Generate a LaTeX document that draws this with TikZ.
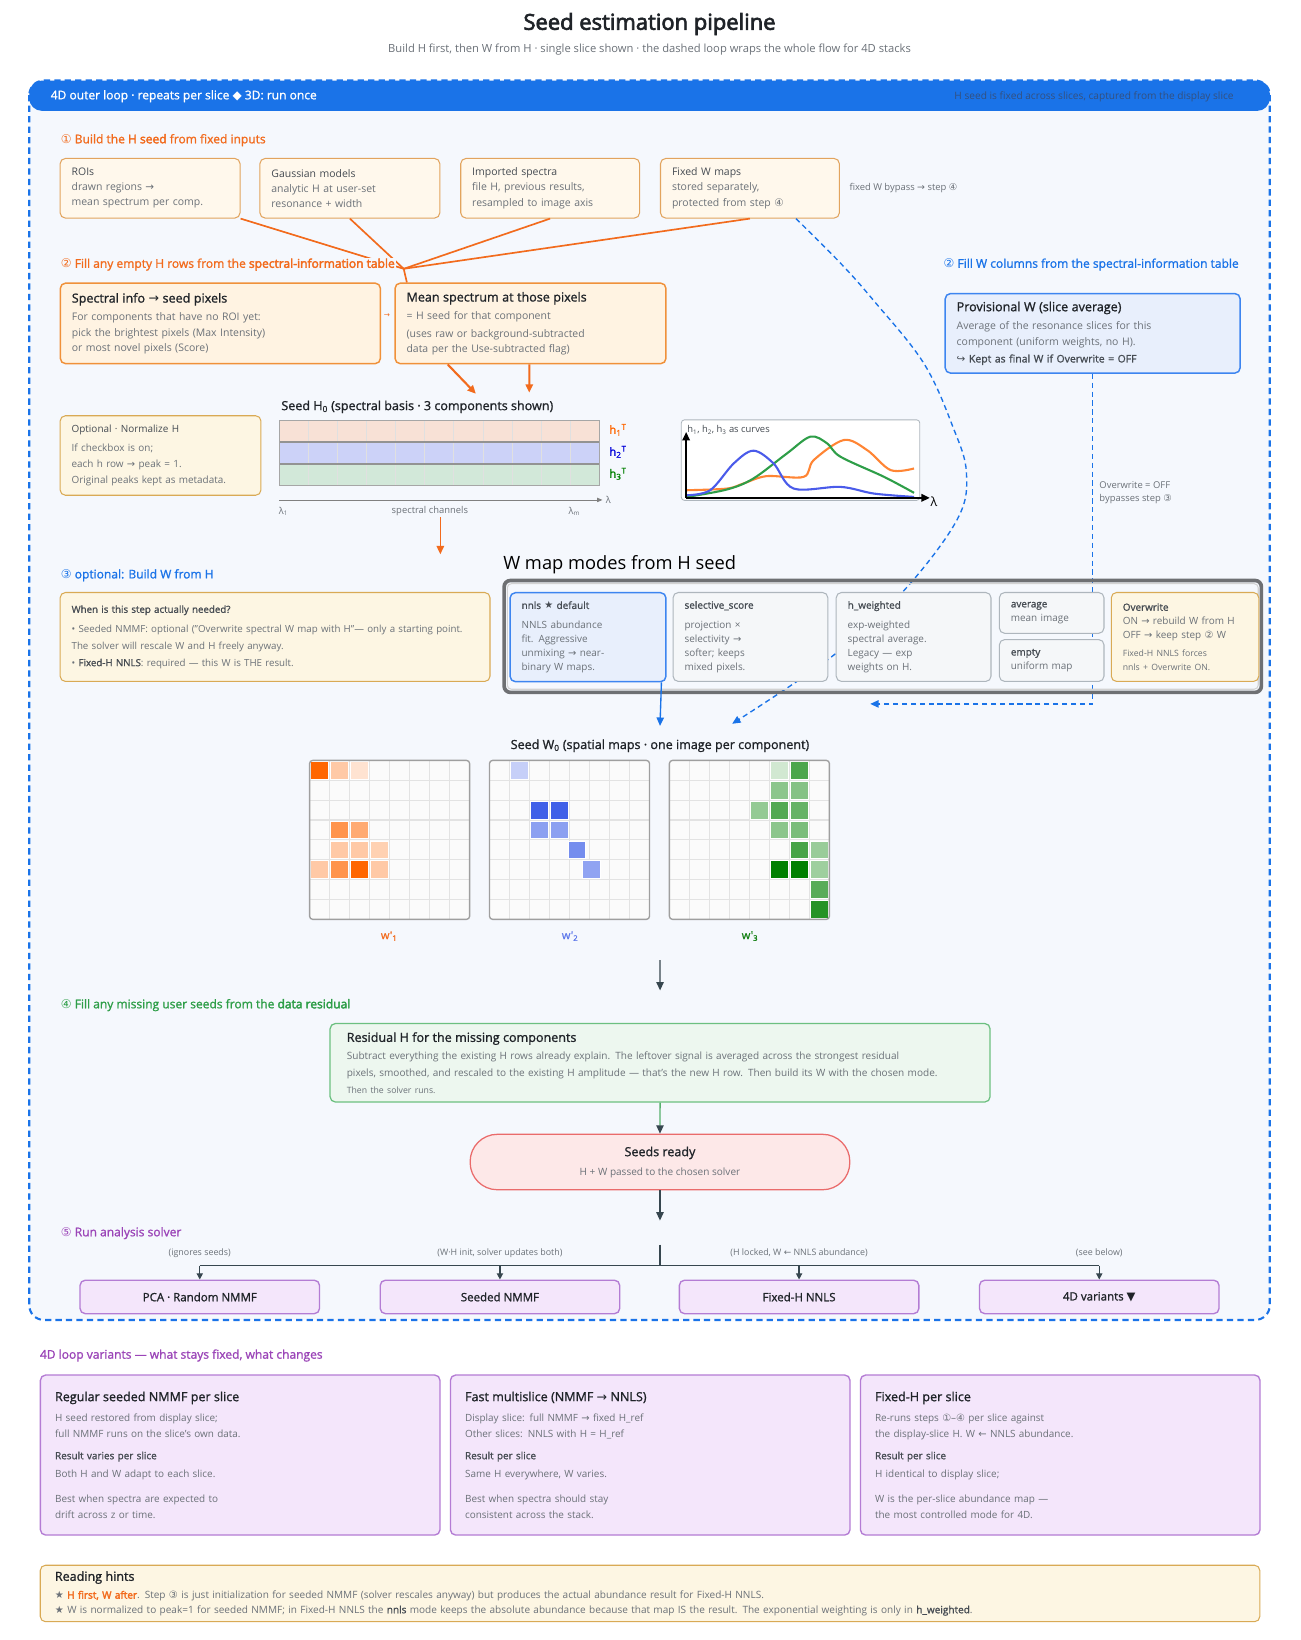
\documentclass[tikz,border=0pt]{standalone}
\usepackage{fontspec}
\setmainfont{Open Sans}[AutoFakeBold=3]
\newfontfamily\semib{Open Sans}[FakeBold=1.2, AutoFakeBold=3]
\newfontfamily\symf{DejaVu Sans}
\usetikzlibrary{positioning}
\usetikzlibrary{arrows.meta}

\definecolor{loopblue}{HTML}{1A73E8}
\definecolor{loopbg}{HTML}{F5F8FD}
\definecolor{bandtxt}{HTML}{34507E}
\definecolor{txtdark}{HTML}{1F2328}
\definecolor{txtmid}{HTML}{454B52}
\definecolor{txtgrey}{HTML}{6B7178}
\definecolor{orangeT}{HTML}{F26B1D}
\definecolor{greenT}{HTML}{2E9E48}
\definecolor{purpleT}{HTML}{9B45B8}
\definecolor{inFill}{HTML}{FFF8EC}
\definecolor{inDraw}{HTML}{E2A45E}
\definecolor{creamFill}{HTML}{FDF6E3}
\definecolor{creamDraw}{HTML}{D9AA55}
\definecolor{orFill}{HTML}{FFF3E2}
\definecolor{orDraw}{HTML}{F0913A}
\definecolor{blFill}{HTML}{E8EFFC}
\definecolor{blDraw}{HTML}{3D85F0}
\definecolor{gyFill}{HTML}{F5F7F9}
\definecolor{gyDraw}{HTML}{AEB6BD}
\definecolor{grFill}{HTML}{EDF7EF}
\definecolor{grDraw}{HTML}{6CC080}
\definecolor{rdFill}{HTML}{FDE8E8}
\definecolor{rdDraw}{HTML}{EA6B6B}
\definecolor{puFill}{HTML}{F4E6FB}
\definecolor{puDraw}{HTML}{B47CD4}
\definecolor{arrdark}{HTML}{37474F}
\definecolor{panelgrey}{HTML}{6E7073}
\definecolor{hOr}{HTML}{FF6600}
\definecolor{hBl}{HTML}{4060E8}
\definecolor{hGr}{HTML}{008000}
\definecolor{cOr}{HTML}{FF8534}
\definecolor{cBl}{HTML}{4A5BEA}
\definecolor{cGr}{HTML}{2E9E48}
\definecolor{hrowA}{HTML}{F8E1D6}
\definecolor{hrowB}{HTML}{CCD2F8}
\definecolor{hrowC}{HTML}{D2E8D9}

\newcommand{\sym}[1]{{\symf #1}}
\newcommand{\fsz}[2]{\fontsize{#1}{#2}\selectfont}
\newcommand{\hd}[1]{{\color{txtmid}#1}}
\newcommand{\strongtxt}[1]{{\bfseries #1}}
\newcommand{\btitle}[1]{{\fsz{12}{15}\semib\color{txtdark}#1}}
\newcommand{\mtitle}[1]{{\semib\color{txtmid}#1}}

\tikzset{
  bsize/.code 2 args={\pgfmathsetmacro\boxtw{#1-22}%
    \tikzset{minimum width=#1pt, minimum height=#2pt, text width=\boxtw pt}},
  box/.style={draw, rounded corners=5pt, line width=1pt, anchor=north west,
    align=left, inner xsep=11pt, inner ysep=0pt, text=txtgrey},
  inbox/.style={box, fill=inFill, draw=inDraw, font=\fsz{10}{14.5}},
  orbox/.style={box, fill=orFill, draw=orDraw, line width=1.4pt, font=\fsz{10}{14.5}},
  crbox/.style={box, fill=creamFill, draw=creamDraw, font=\fsz{9.5}{15.5}},
  blbox/.style={box, fill=blFill, draw=blDraw, line width=1.4pt, font=\fsz{10}{16}},
  gybox/.style={box, fill=gyFill, draw=gyDraw},
  grbox/.style={box, fill=grFill, draw=grDraw, line width=1.2pt},
  pubox/.style={box, fill=puFill, draw=puDraw, line width=1.3pt, font=\fsz{9.5}{15.5}},
  modefont/.style={font=\fsz{9.5}{13.5}, inner xsep=10pt},
  sect/.style={anchor=west, font=\semib\fsz{11.5}{13}, inner sep=1pt},
  note/.style={font=\fsz{9}{12}, text=txtgrey, inner sep=1pt},
  solver/.style={draw=puDraw, fill=puFill, line width=1.3pt, rounded corners=5pt,
    minimum width=229pt, minimum height=32pt, font=\semib\fsz{11}{12}, text=txtdark},
  arr/.style={-{Triangle[length=8pt,width=7pt]}},
  orline/.style={orangeT, line width=1.6pt},
  bldash/.style={loopblue, line width=1.3pt, dash pattern=on 5pt off 3.5pt},
  dkline/.style={arrdark, line width=1.3pt},
  gridline/.style={draw=gray!22, line width=1.1pt},
}

\begin{document}
\begin{tikzpicture}[x=1pt,y=-1pt]
  \useasboundingbox (0,0) rectangle (1243,1568);
  \fill[white] (0,0) rectangle (1243,1568);

  % title
  \node[font=\bfseries\fsz{21}{24}, text=txtdark] (title) at (621,23) {Seed estimation pipeline};
  \node[font=\fsz{10.7}{12}, text=txtgrey] (subtitle) at (621,47)
    {Build H first, then W from H · single slice shown · the dashed loop wraps the whole flow for 4D stacks};

  % outer 4D loop
  \fill[loopbg, rounded corners=14pt] (28,77) rectangle (1214,1262);
  \fill[loopblue, rounded corners=12pt] (28,77) rectangle (1214,106);
  \draw[loopblue, line width=2pt, dash pattern=on 6pt off 4pt, rounded corners=14pt] (28,77) rectangle (1214,1262);
  \node[anchor=west, text=white, font=\semib\fsz{11.5}{13}] (looplab) at (45,92)
    {4D outer loop · repeats per slice \sym{◆} 3D: run once};
  \node[anchor=east, text=bandtxt, font=\fsz{9.7}{11}] (loopnote) at (1183,93)
    {H seed is fixed across slices, captured from the display slice};

  % step 1: fixed inputs
  \node[sect, text=orangeT] (s1) at (57,134) {\sym{①} Build the \strongtxt{H seed} from fixed inputs};
  \node[inbox, bsize={172}{57}] (roi) at (57,151) {\hd{ROIs}\\ drawn regions \sym{→}\\ mean spectrum per comp.};
  \node[inbox, bsize={172}{57}] (gauss) at (248,151) {\hd{Gaussian models}\\ analytic H at user-set\\ resonance + width};
  \node[inbox, bsize={171}{57}] (imp) at (440,151) {\hd{Imported spectra}\\ file H, previous results,\\ resampled to image axis};
  \node[inbox, bsize={171}{57}] (fixw) at (631,151) {\hd{Fixed W maps}\\ stored separately,\\ protected from step \sym{④}};
  \node[note, anchor=west] (bypass) at (811,180) {fixed W bypass \sym{→} step \sym{④}};

  % inputs converge behind the step 2 label
  \coordinate (hub) at (386,257);
  \draw[orline] (roi.south east) -- (hub);
  \draw[orline] (gauss.south) -- (hub);
  \draw[orline] (imp.south) -- (hub);
  \draw[orline] (fixw.south) -- (hub);

  % step 2 (H)
  \node[orbox, bsize={306}{77}] (spx) at (57,270) {\btitle{Spectral info \sym{→} seed pixels}\\[3pt]
    For components that have no ROI yet:\\ pick the brightest pixels (Max Intensity)\\ or most novel pixels (Score)};
  \node[orbox, bsize={259}{77}] (mean) at (377,270) {\btitle{Mean spectrum at those pixels}\\[3pt]
    = H seed for that component\\[2pt] (uses raw or background-subtracted\\ data per the Use-subtracted flag)};
  \draw[orline] (hub) -- ([xshift=12pt]mean.north west);
  \node[sect, text=orangeT, fill=loopbg] (s2) at (57,253)
    {\sym{②} Fill any empty H rows from the \strongtxt{spectral-information table}};
  \node[text=orangeT, font=\fsz{7}{8}, inner sep=0pt] (smallarr) at (370,302) {\sym{→}};

  % seed H0
  \node[font=\semib\fsz{12}{13}, text=txtdark] (h0t) at (399,389) {Seed H\textsubscript{0} (spectral basis · 3 components shown)};
  \draw[orline, line width=2pt, arr] ([xshift=51pt]mean.south west) -- ([xshift=56pt,yshift=3pt]h0t.north);
  \draw[orline, line width=2pt, arr] ([xshift=-1pt]mean.south) -- ([xshift=107pt,yshift=4pt]h0t.north);

  \node[crbox, bsize={192}{76}] (norm) at (57,397) {\hd{Optional · Normalize H}\\[2pt]
    If checkbox is on;\\ each h row \sym{→} peak = 1.\\ Original peaks kept as metadata.};

  \fill[hrowA] (267,402) rectangle (573,423);
  \fill[hrowB] (267,423) rectangle (573,444);
  \fill[hrowC] (267,444) rectangle (573,464);
  \foreach \k in {1,...,10}
    \draw[black!12, line width=0.8pt] (267+\k*27.82,402) -- (267+\k*27.82,464);
  \draw[gray!85, line width=1.8pt] (267,423) -- (573,423);
  \draw[gray!85, line width=1.8pt] (267,444) -- (573,444);
  \draw[gray!70, line width=1pt] (267,402) rectangle (573,464);
  \node[text=hOr, font=\semib\fsz{11}{12}, anchor=west] (h1lab) at (579,411) {h\textsubscript{1}\textsuperscript{T}};
  \node[text=blue!85!black, font=\semib\fsz{11}{12}, anchor=west] (h2lab) at (579,432) {h\textsubscript{2}\textsuperscript{T}};
  \node[text=hGr, font=\semib\fsz{11}{12}, anchor=west] (h3lab) at (579,453) {h\textsubscript{3}\textsuperscript{T}};
  \coordinate (axL) at (267,478);
  \coordinate (axR) at (576,478);
  \draw[gray, line width=0.8pt, -{Triangle[length=5pt,width=4pt]}] (axL) -- (axR);
  \node[note, anchor=west] (laml) at (578,478) {λ};
  \node[note] (lam1) at (271,489) {λ\textsubscript{1}};
  \node[note] (chan) at (411,489) {spectral channels};
  \node[note] (lamm) at (549,489) {λ\textsubscript{m}};
  \coordinate (hdown) at (421,530);
  \draw[orline, arr] ([xshift=10pt]chan.south) -- (hdown);

  % h curves
  \node[draw=gyDraw, fill=white, rounded corners=3pt, line width=0.8pt, anchor=north west,
    minimum width=228pt, minimum height=77pt] (chart) at (651,401) {};
  \node[anchor=west, font=\fsz{9}{10}, text=txtmid, inner sep=1pt] (chartt) at (656,411)
    {h\textsubscript{1}, h\textsubscript{2}, h\textsubscript{3} as curves};
  \draw[cOr, line width=2pt] plot[smooth, tension=0.55] coordinates {(656.5,468.7) (695,467.1) (710.7,462.3) (733,455.2) (768.4,455.9) (778,439.9) (806.8,420.7) (829,430.3) (851.6,449.5) (873.9,447.9)};
  \draw[cGr, line width=2pt] plot[smooth, tension=0.55] coordinates {(656.5,475.1) (695,468) (720.3,457.5) (752.4,433.5) (774.8,417.5) (790.8,423.9) (803.6,436.7) (845.2,455.9) (873.9,471.2)};
  \draw[cBl, line width=2pt] plot[smooth, tension=0.55] coordinates {(656.5,473.5) (679,468.7) (701.5,443.1) (720.3,430.9) (739.6,443.1) (758.8,467.1) (803.6,465.5) (835.6,471.9) (873.9,475.1)};
  \coordinate (chO) at (656,476);
  \draw[black, line width=2pt, -{Triangle[length=8pt,width=7pt]}] (chO) -- ++(0,-63);
  \draw[black, line width=2pt, -{Triangle[length=8pt,width=7pt]}] (chO) -- ++(233,0);
  \node[font=\fsz{12}{12}, inner sep=0pt] (chlam) at (893,480) {λ};

  % step 2 (W)
  \node[sect, text=loopblue] (s2w) at (901,253) {\sym{②} Fill W columns from the spectral-information table};
  \node[blbox, bsize={282}{76}] (provw) at (903,280) {\btitle{Provisional W (slice average)}\\[1pt]
    Average of the resonance slices for this\\ component (uniform weights, no H).\\
    {\semib\color{txtmid}\sym{↪} Kept as final W if Overwrite = OFF}};
  \coordinate (owend) at (832,673);
  \draw[bldash, arr] (provw.south) |- (owend);
  \node[note, anchor=west, align=left, font=\fsz{9}{13}] (ownote) at (1050,471) {Overwrite = OFF\\ bypasses step \sym{③}};

  % fixed W bypass
  \draw[bldash, arr] plot[smooth, tension=0.6] coordinates {([xshift=44pt]fixw.south) (803,251) (835,287) (883,347) (911,408) (924,452) (915,497) (863,566) (795,628) (700,692)};

  % step 3: W modes
  \node[sect, text=loopblue] (s3) at (57,550) {\sym{③} optional: Build W from H};
  \node[crbox, bsize={411}{85}, font=\fsz{9.3}{16}] (when) at (57,566)
    {\mtitle{When is this step actually needed?}\\[3pt]
    • Seeded NMMF: optional ("Overwrite spectral W map with H"— only a starting point.\\
    The solver will rescale W and H freely anyway.\\
    • \mtitle{Fixed-H NNLS}: required — this W is THE result.};
  \node[anchor=west, font=\fsz{17.5}{20}, text=black, inner sep=0pt] (modest) at (481,540) {W map modes from H seed};
  \draw[panelgrey, line width=3.5pt, rounded corners=6pt] (482,555) rectangle (1206,662);
  \draw[gray!35, line width=1pt, rounded corners=4pt] (485,558) rectangle (1203,659);
  \node[blbox, modefont, bsize={149}{85}] (nnls) at (487,566) {\mtitle{nnls \sym{★} default}\\[5pt]
    NNLS abundance\\ fit. Aggressive\\ unmixing \sym{→} near-\\ binary W maps.};
  \node[gybox, modefont, bsize={148}{85}] (selsc) at (643,566) {\mtitle{selective\_score}\\[5pt]
    projection ×\\ selectivity \sym{→}\\ softer; keeps\\ mixed pixels.};
  \node[gybox, modefont, bsize={148}{85}] (hwt) at (799,566) {\mtitle{h\_weighted}\\[5pt]
    exp-weighted\\ spectral average.\\ Legacy — exp\\ weights on H.};
  \node[gybox, modefont, bsize={100}{39}] (avg) at (955,566) {\mtitle{average}\\ mean image};
  \node[gybox, modefont, bsize={100}{40}] (empt) at (955,611) {\mtitle{empty}\\ uniform map};
  \node[crbox, modefont, bsize={141}{85}] (ovw) at (1062,566) {\mtitle{Overwrite}\\
    ON \sym{→} rebuild W from H\\ OFF \sym{→} keep step \sym{②} W\\[3pt]
    {\fsz{8.3}{12}Fixed-H NNLS forces}\\ {\fsz{8.3}{12}nnls + Overwrite ON.}};
  \coordinate (w0in) at (631,694);
  \draw[loopblue, line width=1.3pt, arr] ([xshift=-5pt]nnls.south east) -- (w0in);

  % seed W0
  \node[font=\semib\fsz{12}{13}, text=txtdark] (w0t) at (631,713) {Seed W\textsubscript{0} (spatial maps · one image per component)};
  \foreach \gx in {296,468,640}{
    \fill[white!97!gray] (\gx,727) rectangle ++(153,152);
    \foreach \k in {1,...,7}{
      \draw[gridline] (\gx+\k*19.125,727) -- ++(0,152);
      \draw[gridline] (\gx,727+\k*19) -- ++(153,0);
    }
  }
  \foreach \c/\r/\p in {0/0/100, 1/0/35, 2/0/18, 1/3/70, 2/3/55, 1/4/35, 2/4/35, 3/4/30, 0/5/35, 1/5/70, 2/5/100, 3/5/35}
    \filldraw[fill=hOr!\p!white, draw=white, line width=0.8pt] (296+\c*19.125+1,727+\r*19+1) rectangle ++(17.1,17);
  \foreach \c/\r/\p in {1/0/30, 2/2/100, 3/2/100, 2/3/60, 3/3/60, 3.87/4/72, 4.6/5/58}
    \filldraw[fill=hBl!\p!white, draw=white, line width=0.8pt] (468+\c*19.125+1,727+\r*19+1) rectangle ++(17.1,17);
  \foreach \c/\r/\p in {5/0/18, 6/0/70, 5/1/45, 6/1/48, 4/2/42, 5/2/68, 6/2/60, 5/3/45, 6/3/52, 6/4/72, 7/4/40, 5/5/100, 6/5/100, 7/5/38, 7/6/65, 7/7/85}
    \filldraw[fill=hGr!\p!white, draw=white, line width=0.8pt] (640+\c*19.125+1,727+\r*19+1) rectangle ++(17.1,17);
  \foreach \gx in {296,468,640}
    \draw[gray!75, line width=1.3pt, rounded corners=3pt] (\gx,727) rectangle ++(153,152);
  \node[text=orangeT, font=\semib\fsz{10.5}{11}] (w1lab) at (372,895) {w'\textsubscript{1}};
  \node[text=hBl!85, font=\semib\fsz{10.5}{11}] (w2lab) at (545,895) {w'\textsubscript{2}};
  \node[text=hGr!85!gray, font=\semib\fsz{10.5}{11}] (w3lab) at (717,895) {w'\textsubscript{3}};

  % step 4: residual
  \node[sect, text=greenT] (s4) at (57,961) {\sym{④} Fill any missing user seeds from the \strongtxt{data residual}};
  \node[grbox, bsize={631}{75}, inner xsep=16pt, text width=599pt, font=\fsz{9.6}{16}] (resid) at (315,978)
    {\btitle{Residual H for the missing components}\\[1pt]
    Subtract everything the existing H rows already explain. The leftover signal is averaged across the strongest residual\\
    pixels, smoothed, and rescaled to the existing H amplitude — that's the new H row. Then build its W with the chosen mode.\\
    {\fsz{8.3}{12}Then the solver runs.}};
  \coordinate (w0out) at (631,918);
  \draw[dkline, arr] (w0out) -- ([yshift=31pt]resid.north);
  \node[draw=rdDraw, fill=rdFill, line width=1.2pt, rounded corners=26pt, minimum width=363pt,
    minimum height=53pt, align=center, font=\fsz{9.6}{18}, text=txtgrey] (seeds) at (631,1111)
    {{\semib\fsz{12}{14}\color{txtdark}Seeds ready}\\ H + W passed to the chosen solver};
  \draw[greenT!80, line width=1.3pt, -{Triangle[length=8pt,width=7pt,color=arrdark]}] (resid.south) -- (seeds.north);
  \coordinate (seedout) at (631,1167);
  \draw[dkline, arr] (seeds.south) -- (seedout);

  % step 5: solvers
  \node[sect, text=purpleT] (s5) at (57,1179) {\sym{⑤} Run analysis solver};
  \node[solver] (pca) at (191,1240) {PCA · Random NMMF};
  \node[solver] (seednm) at (478,1240) {Seeded NMMF};
  \node[solver] (fixh) at (764,1240) {Fixed-H NNLS};
  \node[solver] (v4d) at (1051,1240) {4D variants \sym{▼}};
  \coordinate (fantop) at (631,1190);
  \coordinate (fan) at (631,1210);
  \draw[dkline] (fantop) -- (fan);
  \draw[dkline] (pca.north |- fan) -- (v4d.north |- fan);
  \foreach \s in {pca,seednm,fixh,v4d}
    \draw[dkline, -{Triangle[length=6pt,width=6pt]}] (\s.north |- fan) -- (\s.north);
  \node[note, font=\fsz{8.5}{9}] (l1) at (191,1198) {(ignores seeds)};
  \node[note, font=\fsz{8.5}{9}] (l2) at (478,1198) {(W·H init, solver updates both)};
  \node[note, font=\fsz{8.5}{9}] (l3) at (764,1198) {(H locked, W \sym{←} NNLS abundance)};
  \node[note, font=\fsz{8.5}{9}] (l4) at (1051,1198) {(see below)};

  % 4D variants
  \node[sect, text=purpleT] (s4d) at (37,1296) {4D loop variants — what stays fixed, what changes};
  \node[pubox, bsize={382}{153}, inner xsep=14pt, text width=354pt] (var1) at (38,1314)
    {\btitle{Regular seeded NMMF per slice}\\[3.5pt]
    H seed restored from display slice;\\ full NMMF runs on the slice's own data.\\[5.5pt]
    \mtitle{Result varies per slice}\\[1.5pt] Both H and W adapt to each slice.\\[8.5pt]
    Best when spectra are expected to\\ drift across z or time.\\[6pt]};
  \node[pubox, bsize={382}{153}, inner xsep=14pt, text width=354pt] (var2) at (430,1314)
    {\btitle{Fast multislice (NMMF \sym{→} NNLS)}\\[3.5pt]
    Display slice: full NMMF \sym{→} fixed H\_ref\\ Other slices: NNLS with H = H\_ref\\[5.5pt]
    \mtitle{Result per slice}\\[1.5pt] Same H everywhere, W varies.\\[8.5pt]
    Best when spectra should stay\\ consistent across the stack.\\[6pt]};
  \node[pubox, bsize={382}{153}, inner xsep=14pt, text width=354pt] (var3) at (822,1314)
    {\btitle{Fixed-H per slice}\\[3.5pt]
    Re-runs steps \sym{①}–\sym{④} per slice against\\ the display-slice H. W \sym{←} NNLS abundance.\\[5.5pt]
    \mtitle{Result per slice}\\[1.5pt] H identical to display slice;\\[8.5pt]
    W is the per-slice abundance map —\\ the most controlled mode for 4D.\\[6pt]};

  % hints
  \node[crbox, bsize={1166}{54}, inner xsep=14pt, text width=1138pt, font=\fsz{9.6}{14}] (hints) at (38,1496)
    {\btitle{Reading hints}\\[3pt]
    \sym{★} {\color{orangeT}\strongtxt{H first, W after}}. Step \sym{③} is just initialization for seeded NMMF (solver rescales anyway) but produces the actual abundance result for Fixed-H NNLS.\\
    \sym{★} W is normalized to peak=1 for seeded NMMF; in Fixed-H NNLS the \mtitle{nnls} mode keeps the absolute abundance because that map IS the result. The exponential weighting is only in \mtitle{h\_weighted}.\\[-3pt]};
\end{tikzpicture}
\end{document}
